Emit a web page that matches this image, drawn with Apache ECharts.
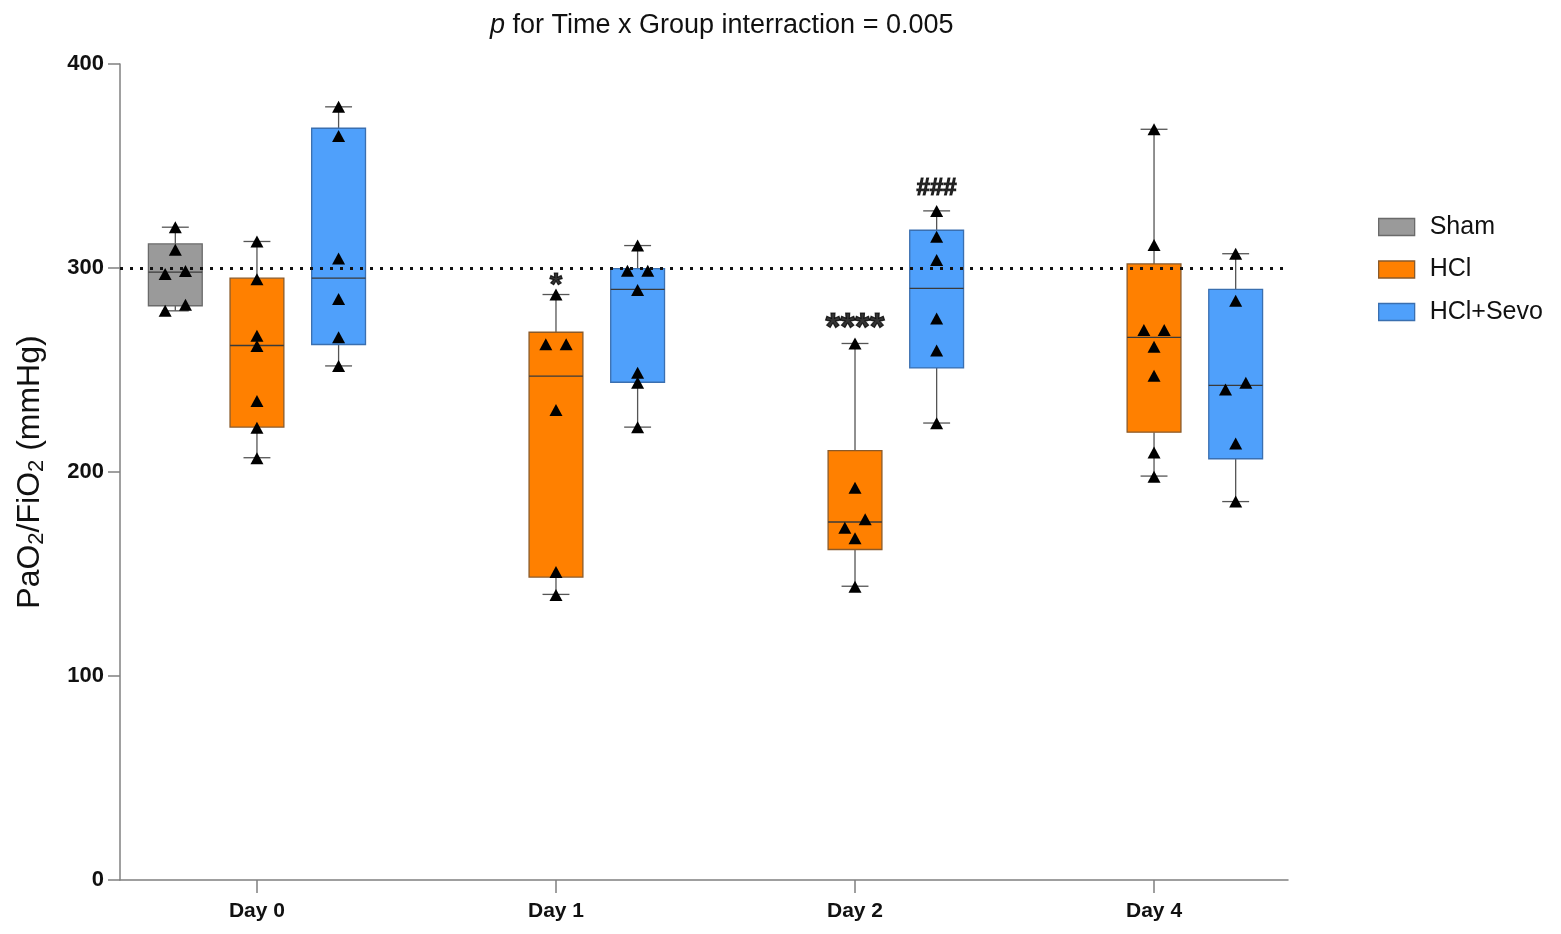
<!DOCTYPE html>
<html>
<head>
<meta charset="utf-8">
<title>PaO2/FiO2</title>
<script src="https://cdn.jsdelivr.net/npm/echarts@6/dist/echarts.min.js"></script>
<style>
  html, body { margin: 0; padding: 0; background: #fff; }
  #chart { width: 1561px; height: 934px; }
</style>
</head>
<body>
<div id="chart"></div>
<script>
// categories and groups
var days = ['Day 0', 'Day 1', 'Day 2', 'Day 4'];
var groups = ['Sham', 'HCl', 'HCl+Sevo'];

// box stats per day: [min, q1, median, q3, max], null = no box
var shamBox = [[279, 281.5, 298, 311.8, 320], null, null, null];
var hclBox = [
    [207, 222, 262, 295, 313],
    [140, 148.5, 247, 268.5, 287],
    [144, 162, 175.5, 210.5, 263],
    [198, 219.5, 266, 302, 368]
];
var sevoBox = [
    [252, 262.5, 295, 368.5, 379],
    [222, 244, 289.5, 299.7, 311],
    [224, 251, 290, 318.5, 328],
    [185.5, 206.5, 242.5, 289.5, 307]
];

// individual animals per day
var shamPts = [[320, 309, 297, 298.5, 282, 279], [], [], []];
var hclPts = [
    [313, 294.5, 266.8, 261.8, 234.8, 221.7, 206.7],
    [287, 262.6, 262.6, 230.4, 151, 139.7],
    [263, 192.3, 176.8, 172.7, 167.5, 143.8],
    [368, 311.3, 269.6, 269.6, 261.4, 247.2, 209.6, 197.7]
];
var sevoPts = [
    [379, 364.7, 304.7, 284.8, 266, 252],
    [311, 298.7, 298.7, 289.2, 248.7, 243.8, 221.9],
    [328, 315.3, 303.9, 275.3, 259.5, 223.9],
    [307, 284, 240.5, 243.8, 214, 185.5]
];
// dot-plot column of each animal (-1 left, 0 centre, 1 right)
var shamCols = [[0, 0, -1, 1, 1, -1], [], [], []];
var hclCols = [
    [0, 0, 0, 0, 0, 0, 0],
    [0, -1, 1, 0, 0, 0],
    [0, 0, 1, -1, 0, 0],
    [0, 0, -1, 1, 0, 0, 0, 0]
];
var sevoCols = [
    [0, 0, 0, 0, 0, 0],
    [0, -1, 1, 0, 0, 0, 0],
    [0, 0, 0, 0, 0, 0],
    [0, 0, -1, 1, 0, 0]
];

// significance marks
var annoText = ['*', '****', '###'];
var annoDay = [1, 2, 2];
var annoGroup = [1, 1, 2];
var annoY = [291, 270, 339];

var refLine = 300;

// layout
var groupOffset = [-0.273, 0, 0.273];
var colStep = 0.034;
var boxWidth = 0.18;
var capWidth = 0.09;
var fills = ['#9a9a9a', '#ff8000', '#4fa0fb'];
var borders = ['#6a6a6a', '#8a5a2a', '#3a6fb0'];
var FONT = '"Liberation Sans", Arial, Helvetica, sans-serif';

function boxData(boxes, g) {
    var out = [];
    boxes.forEach(function (b, d) {
        if (b) out.push([d + groupOffset[g]].concat(b));
    });
    return out;
}

function ptData(pts, cols, g) {
    var out = [];
    pts.forEach(function (list, d) {
        list.forEach(function (v, i) {
            out.push([d + groupOffset[g] + cols[d][i] * colStep, v]);
        });
    });
    return out;
}

function makeRender(g) {
    return function (params, api) {
        var x = api.value(0);
        var lo = api.coord([x, api.value(1)]);
        var q1 = api.coord([x, api.value(2)]);
        var md = api.coord([x, api.value(3)]);
        var q3 = api.coord([x, api.value(4)]);
        var hi = api.coord([x, api.value(5)]);
        var w = api.size([boxWidth, 0])[0];
        var cw = api.size([capWidth, 0])[0];
        var wStyle = { stroke: '#555', lineWidth: 1.3 };
        return {
            type: 'group',
            children: [
                { type: 'line', shape: { x1: hi[0], y1: hi[1], x2: q3[0], y2: q3[1] }, style: wStyle },
                { type: 'line', shape: { x1: q1[0], y1: q1[1], x2: lo[0], y2: lo[1] }, style: wStyle },
                { type: 'line', shape: { x1: hi[0] - cw / 2, y1: hi[1], x2: hi[0] + cw / 2, y2: hi[1] }, style: wStyle },
                { type: 'line', shape: { x1: lo[0] - cw / 2, y1: lo[1], x2: lo[0] + cw / 2, y2: lo[1] }, style: wStyle },
                {
                    type: 'rect',
                    shape: { x: q3[0] - w / 2, y: q3[1], width: w, height: q1[1] - q3[1] },
                    style: { fill: fills[g], stroke: borders[g], lineWidth: 1.3 }
                },
                { type: 'line', shape: { x1: md[0] - w / 2, y1: md[1], x2: md[0] + w / 2, y2: md[1] }, style: { stroke: '#3a3a3a', lineWidth: 1.3 } }
            ]
        };
    };
}

var allBoxes = [shamBox, hclBox, sevoBox];
var allPts = [shamPts, hclPts, sevoPts];
var allCols = [shamCols, hclCols, sevoCols];

var series = [];

// dotted reference line behind the boxes
series.push({
    type: 'line',
    z: 1,
    data: [],
    silent: true,
    markLine: {
        silent: true,
        symbol: 'none',
        label: { show: false },
        lineStyle: { color: '#111', width: 3, type: [3, 7] },
        data: [{ yAxis: refLine }]
    }
});

groups.forEach(function (name, g) {
    series.push({
        name: name,
        type: 'custom',
        z: 2,
        itemStyle: { color: fills[g], borderColor: borders[g], borderWidth: 1.3 },
        encode: { x: 0, y: [1, 2, 3, 4, 5] },
        renderItem: makeRender(g),
        data: boxData(allBoxes[g], g)
    });
});

var points = [];
groups.forEach(function (name, g) {
    points = points.concat(ptData(allPts[g], allCols[g], g));
});
series.push({
    type: 'scatter',
    z: 5,
    symbol: 'triangle',
    symbolSize: [13, 12],
    itemStyle: { color: '#000', opacity: 1 },
    silent: true,
    data: points
});

series.push({
    type: 'scatter',
    z: 6,
    symbolSize: 1,
    itemStyle: { color: 'rgba(0,0,0,0)' },
    silent: true,
    label: {
        show: true,
        position: 'inside',
        formatter: function (p) { return p.value[2]; },
        fontFamily: FONT,
        fontWeight: 'bold',
        color: '#000',
        textBorderColor: '#000',
        textBorderWidth: 1.2
    },
    data: annoText.map(function (t, i) {
        return {
            value: [annoDay[i] + groupOffset[annoGroup[i]], annoY[i], t],
            label: {
                fontSize: t === '###' ? 24 : (t === '*' ? 32 : 38),
                color: '#000',
                textBorderColor: '#000',
                textBorderWidth: 1.2
            }
        };
    })
});

var chart = echarts.init(document.getElementById('chart'));
chart.setOption({
    backgroundColor: '#fff',
    animation: false,
    title: {
        text: '{i|p} for Time x Group interraction = 0.005',
        left: 485,
        top: 7,
        textStyle: {
            fontFamily: FONT,
            fontSize: 27,
            fontWeight: 'normal',
            color: '#111',
            rich: {
                i: { fontFamily: FONT, fontSize: 27, fontStyle: 'italic', color: '#111' }
            }
        }
    },
    legend: {
        orient: 'vertical',
        left: 1373,
        top: 209.5,
        itemWidth: 36,
        itemHeight: 17,
        itemGap: 17.5,
        icon: 'rect',
        textStyle: { fontFamily: FONT, fontSize: 25, color: '#111', lineHeight: 24, padding: [0, 0, 0, 10] },
        data: groups.map(function (n, g) {
            return { name: n, itemStyle: { color: fills[g], borderColor: borders[g], borderWidth: 1.3 } };
        })
    },
    grid: { left: 120, right: 273, top: 64, bottom: 54, containLabel: false },
    xAxis: {
        type: 'value',
        min: -0.458,
        max: 3.448,
        splitLine: { show: false },
        axisLine: { show: true, onZero: false, lineStyle: { color: '#808080', width: 1.5 } },
        axisTick: { show: true, length: 13, lineStyle: { color: '#808080', width: 1.5 }, customValues: [0, 1, 2, 3] },
        axisLabel: {
            customValues: [0, 1, 2, 3],
            formatter: function (v) { return days[Math.round(v)]; },
            fontFamily: FONT,
            fontWeight: 'bold',
            fontSize: 21,
            color: '#111',
            margin: 21
        }
    },
    yAxis: {
        type: 'value',
        min: 0,
        max: 400,
        interval: 100,
        splitLine: { show: false },
        axisLine: { show: true, onZero: false, lineStyle: { color: '#808080', width: 1.5 } },
        axisTick: { show: true, length: 12, lineStyle: { color: '#808080', width: 1.5 } },
        axisLabel: { fontFamily: FONT, fontWeight: 'bold', fontSize: 22, color: '#111', margin: 16 },
        name: 'PaO{s|2}/FiO{s|2} (mmHg)',
        nameLocation: 'middle',
        nameGap: 72,
        nameTextStyle: {
            fontFamily: FONT,
            fontSize: 32,
            color: '#111',
            rich: {
                s: { fontFamily: FONT, fontSize: 22, color: '#111', padding: [14, 0, 0, 0] }
            }
        }
    },
    series: series
});
</script>
</body>
</html>
